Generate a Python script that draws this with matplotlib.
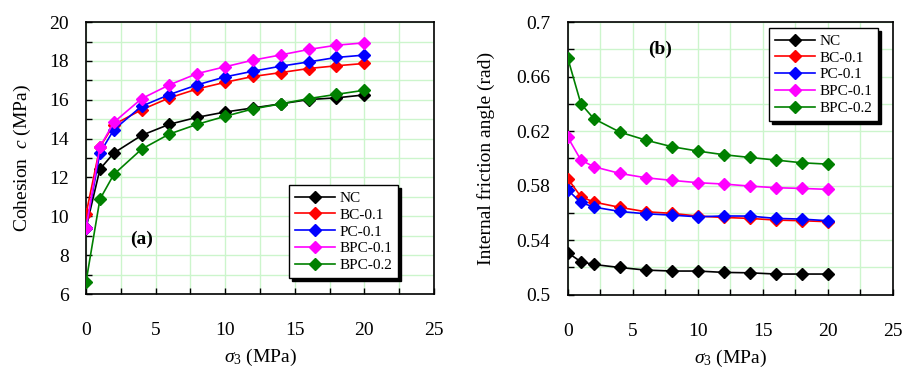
import matplotlib
matplotlib.use("Agg")
import matplotlib.pyplot as plt
from matplotlib.ticker import MultipleLocator, FixedLocator, FormatStrFormatter

plt.rcParams['font.family'] = ['Liberation Serif', 'DejaVu Serif']
plt.rcParams['mathtext.fontset'] = 'custom'
plt.rcParams['mathtext.rm'] = 'Liberation Serif'
plt.rcParams['mathtext.it'] = 'Liberation Serif:italic'
plt.rcParams['mathtext.bf'] = 'Liberation Serif:bold'

sigma3 = [0, 1, 2, 4, 6, 8, 10, 12, 14, 16, 18, 20]
series_names = ["NC", "BC-0.1", "PC-0.1", "BPC-0.1", "BPC-0.2"]
series_colors = ["black", "red", "blue", "magenta", "green"]

cohesion_NC = [9.39, 12.43, 13.26, 14.17, 14.74, 15.10, 15.37, 15.58, 15.79, 16.01, 16.10, 16.25]
cohesion_BC01 = [10.11, 13.57, 14.72, 15.49, 16.10, 16.56, 16.90, 17.20, 17.40, 17.61, 17.75, 17.87]
cohesion_PC01 = [9.39, 13.26, 14.46, 15.67, 16.27, 16.77, 17.18, 17.47, 17.73, 17.95, 18.18, 18.30]
cohesion_BPC01 = [9.39, 13.57, 14.84, 16.06, 16.77, 17.35, 17.70, 18.04, 18.31, 18.59, 18.81, 18.93]
cohesion_BPC02 = [6.62, 10.88, 12.16, 13.46, 14.24, 14.74, 15.15, 15.53, 15.79, 16.06, 16.28, 16.49]

phi_NC = [0.5308, 0.5242, 0.5222, 0.5200, 0.5181, 0.5174, 0.5174, 0.5164, 0.5161, 0.5152, 0.5152, 0.5152]
phi_BC01 = [0.5851, 0.5719, 0.5680, 0.5641, 0.5609, 0.5597, 0.5577, 0.5567, 0.5560, 0.5548, 0.5543, 0.5536]
phi_PC01 = [0.5768, 0.5677, 0.5643, 0.5611, 0.5594, 0.5584, 0.5572, 0.5578, 0.5577, 0.5560, 0.5555, 0.5543]
phi_BPC01 = [0.6154, 0.5988, 0.5939, 0.5890, 0.5858, 0.5839, 0.5822, 0.5812, 0.5797, 0.5785, 0.5780, 0.5773]
phi_BPC02 = [0.6733, 0.6401, 0.6291, 0.6193, 0.6134, 0.6086, 0.6054, 0.6027, 0.6007, 0.5988, 0.5968, 0.5958]

phi_ticks = [0.5, 0.54, 0.58, 0.62, 0.66, 0.7]

cohesion = [cohesion_NC, cohesion_BC01, cohesion_PC01, cohesion_BPC01, cohesion_BPC02]
phi = [phi_NC, phi_BC01, phi_PC01, phi_BPC01, phi_BPC02]

fig = plt.figure(figsize=(9.13, 3.68), dpi=100)
ax1 = fig.add_axes([0.0942, 0.201, 0.381, 0.739])
ax2 = fig.add_axes([0.622, 0.199, 0.356, 0.741])

grid_color = '#ccf5cc'
shadow = {'facecolor': 'black', 'edgecolor': 'black', 'alpha': 1.0}

for ax, data in [(ax1, cohesion), (ax2, phi)]:
    for name, col, ys in zip(series_names, series_colors, data):
        ax.plot(sigma3, ys, color=col, lw=1.2, marker='D', markersize=6,
                markerfacecolor=col, markeredgecolor=col, label=name, zorder=3)
    ax.set_xlim(0, 25)
    ax.xaxis.set_major_locator(MultipleLocator(5))
    ax.xaxis.set_minor_locator(MultipleLocator(2.5))
    ax.grid(True, which='both', color=grid_color, lw=1.0, zorder=0)
    ax.set_axisbelow(True)
    ax.tick_params(which='both', direction='in', labelsize=14, length=4, width=1,
                   color='black')
    ax.tick_params(axis='x', pad=20)
    ax.tick_params(axis='y', pad=12.5)
    for s in ax.spines.values():
        s.set_linewidth(1.2)
    ax.set_xlabel(r'$\sigma_\mathrm{3}$ (MPa)', fontsize=14, labelpad=6)

ax1.set_ylim(6, 20)
ax1.yaxis.set_major_locator(MultipleLocator(2))
ax1.yaxis.set_minor_locator(MultipleLocator(1))
ax1.set_ylabel(r'Cohesion  $c$ (MPa)', fontsize=14)
ax1.yaxis.set_label_coords(-0.152, 0.5)
ax1.text(3.2, 8.8, '(a)', fontsize=14, fontweight='bold', ha='left', va='center')
leg1 = ax1.legend(loc='upper left', bbox_to_anchor=(0.583, 0.40), fontsize=11,
                  frameon=True, fancybox=False, edgecolor='black', framealpha=1,
                  shadow=shadow, handlelength=2.6, labelspacing=0.2,
                  borderpad=0.4, handletextpad=0.3, borderaxespad=0)
leg1.get_frame().set_linewidth(1.0)

ax2.set_ylim(0.5, 0.7)
ax2.yaxis.set_major_locator(FixedLocator(phi_ticks))
ax2.yaxis.set_minor_locator(MultipleLocator(0.02))
ax2.yaxis.set_major_formatter(FormatStrFormatter('%g'))
ax2.set_ylabel('Internal friction angle (rad)', fontsize=14)
ax2.yaxis.set_label_coords(-0.225, 0.5)
ax2.text(6.2, 0.680, '(b)', fontsize=14, fontweight='bold', ha='left', va='center')
leg2 = ax2.legend(loc='upper left', bbox_to_anchor=(0.618, 0.978), fontsize=11,
                  frameon=True, fancybox=False, edgecolor='black', framealpha=1,
                  shadow=shadow, handlelength=2.6, labelspacing=0.2,
                  borderpad=0.4, handletextpad=0.3, borderaxespad=0)
leg2.get_frame().set_linewidth(1.0)

fig.savefig('out.png', dpi=100)
